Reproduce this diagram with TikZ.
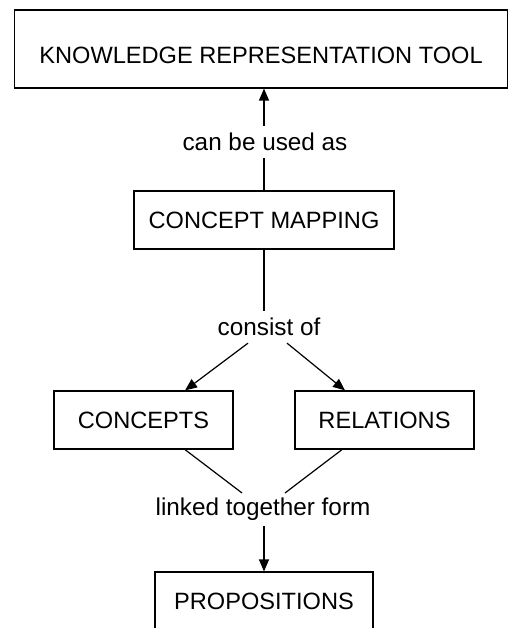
\documentclass[tikz,border=0pt]{standalone}
\usepackage{fontspec}
\setmainfont{Liberation Sans}
\usetikzlibrary{arrows.meta}

\begin{document}
\begin{tikzpicture}[x=1pt, y=-1pt,
    box/.style={draw, line width=1.2pt, inner sep=0pt, font=\fontsize{23.6}{28}\selectfont},
    linkword/.style={inner sep=7pt, font=\fontsize{24.3}{29}\selectfont},
    link/.style={line width=1.2pt},
    linkarrow/.style={link, -{Triangle[length=12pt, width=10pt]}}]
  \clip (0,0) rectangle (509,628);

  % Concept boxes
  \node[box, minimum width=493pt, minimum height=78pt, text height=29pt] (tool) at (261,49) {KNOWLEDGE REPRESENTATION TOOL};
  \node[box, minimum width=260pt, minimum height=58pt] (mapping) at (264,220) {CONCEPT MAPPING};
  \node[box, minimum width=179pt, minimum height=58pt] (concepts) at (143.5,420) {CONCEPTS};
  \node[box, minimum width=179pt, minimum height=58pt] (relations) at (384.5,420) {RELATIONS};
  \node[box, minimum width=218pt, minimum height=58pt] (propositions) at (264,601) {PROPOSITIONS};

  % Linking words
  \node[linkword] (usedas) at (265,142) {can be used as};
  \node[linkword] (consist) at (269,327) {consist of};
  \node[linkword, inner sep=5pt] (linked) at (263,509.5) {linked together form};

  % Mapping -> tool
  \draw[link] (mapping.north) -- (mapping.north |- usedas.south);
  \draw[linkarrow] (mapping.north |- usedas.north) -- (tool.south -| mapping.north);

  % Mapping -> concepts, relations
  \draw[link] (mapping.south) -- (mapping.south |- consist.north);
  \draw[linkarrow] ([xshift=-21pt]consist.south) -- ([xshift=41.5pt]concepts.north);
  \draw[linkarrow] ([xshift=18pt]consist.south) -- ([xshift=-39.5pt]relations.north);

  % Concepts, relations -> propositions
  \draw[link] ([xshift=41.5pt]concepts.south) -- ([xshift=-21pt]linked.north);
  \draw[link] ([xshift=-42.5pt]relations.south) -- ([xshift=22pt]linked.north);
  \draw[linkarrow] (propositions.north |- linked.south) -- (propositions.north);
\end{tikzpicture}
\end{document}
